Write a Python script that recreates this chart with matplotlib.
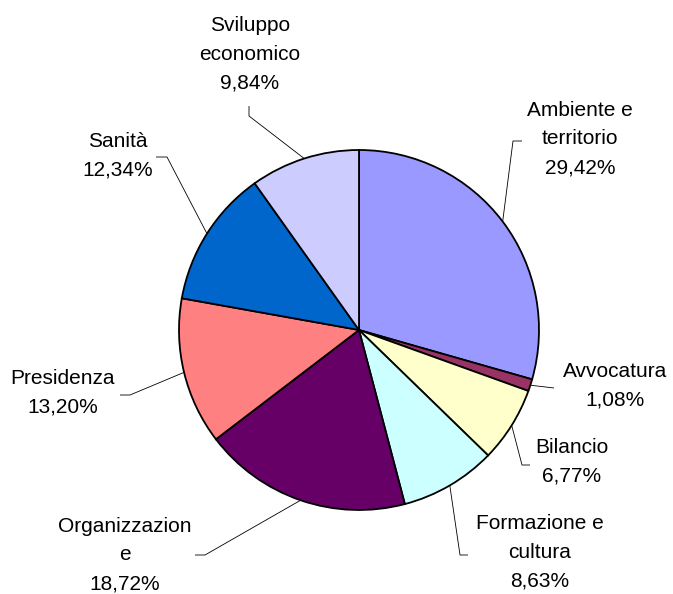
import numpy as np
import matplotlib
matplotlib.use("Agg")
import matplotlib.pyplot as plt

categories = ["Ambiente e\nterritorio", "Avvocatura", "Bilancio", "Formazione e\ncultura",
              "Organizzazion\ne", "Presidenza", "Sanità", "Sviluppo\neconomico"]
values = [29.42, 1.08, 6.77, 8.63, 18.72, 13.20, 12.34, 9.84]
pct_labels = ["29,42%", "1,08%", "6,77%", "8,63%", "18,72%", "13,20%", "12,34%", "9,84%"]
colors = ["#9999FF", "#993366", "#FFFFCC", "#CCFFFF", "#660066", "#FF8080", "#0066CC", "#CCCCFF"]

W, H = 673, 594
fig = plt.figure(figsize=(W / 100, H / 100), dpi=100)
ax = fig.add_axes([0, 0, 1, 1])

cx, cy, r = 359, H - 330, 180
wedges, _ = ax.pie(values, colors=colors, startangle=90, counterclock=False,
                   center=(cx, cy), radius=r, frame=True,
                   wedgeprops=dict(edgecolor="black", linewidth=1.3))
ax.set_xlim(0, W)
ax.set_ylim(0, H)
ax.set_aspect("equal")
ax.axis("off")

# layout: text center (px), elbow points (px) in image coords (y down)
layout = [
    ((580, 139), [(522, 141), (513, 141)]),
    ((615, 386), [(554, 388)]),
    ((572, 462), [(530, 465), (522, 465)]),
    ((540, 552), [(468, 555), (460, 555)]),
    ((125, 555), [(195, 555), (205, 555)]),
    ((63, 393), [(120, 395), (130, 395)]),
    ((118, 156), [(156, 157), (167, 157)]),
    ((250, 54), [(249, 106), (249, 116)]),
]

for w, cat, pct, (tpos, elbows) in zip(wedges, categories, pct_labels, layout):
    mid = np.deg2rad((w.theta1 + w.theta2) / 2)
    ex, ey = cx + r * np.cos(mid), cy + r * np.sin(mid)
    xs = [p[0] for p in elbows] + [ex]
    ys = [H - p[1] for p in elbows] + [ey]
    ax.plot(xs, ys, color="black", lw=0.6, solid_capstyle="butt")
    ax.text(tpos[0], H - tpos[1], cat + "\n" + pct, ha="center", va="center",
            fontsize=15, family="Liberation Sans", linespacing=1.64, color="black")

fig.savefig("out.png", dpi=100, facecolor="white")
